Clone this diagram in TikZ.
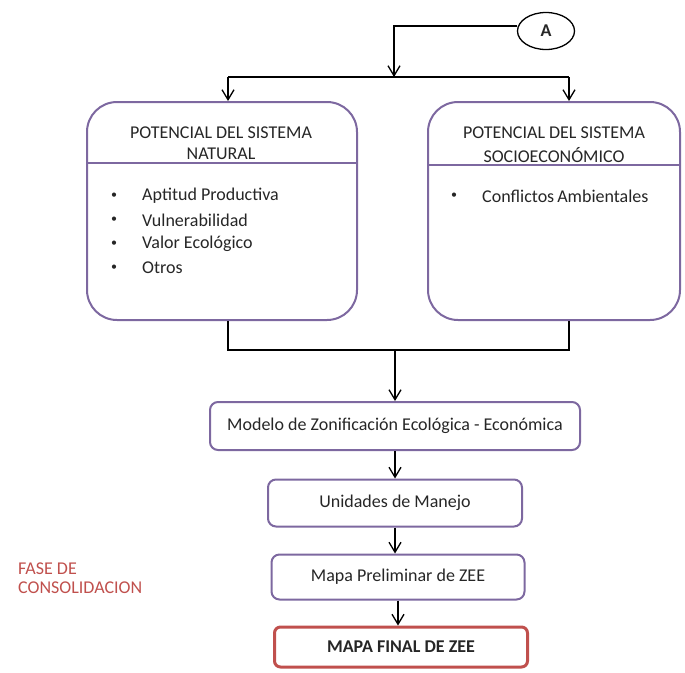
\documentclass[tikz,border=0pt]{standalone}
\usepackage{fontspec}
\setmainfont{Carlito}
\usetikzlibrary{arrows.meta,shapes.geometric}
\definecolor{purp}{HTML}{7D68A0}
\definecolor{redb}{HTML}{C0504D}
\definecolor{txtc}{HTML}{262626}
\begin{document}
\begin{tikzpicture}[x=1pt,y=-1pt,
  font=\fontsize{18}{21}\selectfont,text=txtc,
  conn/.style={draw=black,line width=1.3pt},
  arr/.style={conn,-{Straight Barb[length=10pt,width=12pt,line width=1.3pt]}},
  bigbox/.style={draw=purp,line width=2pt,rounded corners=30pt,inner sep=0pt},
  smallbox/.style={draw=purp,line width=2pt,rounded corners=8pt,inner sep=0pt},
  finalbox/.style={draw=redb,line width=3pt,rounded corners=6pt,inner sep=0pt},
  txt/.style={inner sep=0pt,anchor=base west}]
\useasboundingbox (0,0) rectangle (685,672);
% top ellipse
\node[ellipse,draw=black,line width=1.3pt,minimum width=57pt,minimum height=37pt] (A) at (546,31) {\textbf{A}};
\coordinate (t1) at (394,26);
\coordinate (j1) at (228,77);
\coordinate (j2) at (569,77);
\coordinate (j0) at (394,77);
% big boxes
\node[bigbox,minimum width=270pt,minimum height=218pt] (nat) at (222,211) {};
\node[bigbox,minimum width=252pt,minimum height=218pt] (soc) at (554,211) {};
\draw[purp,line width=2pt] (nat.west |- 0,163) -- (nat.east |- 0,163);
\draw[purp,line width=2pt] (soc.west |- 0,165) -- (soc.east |- 0,165);
% headers
\node (nh1) at (221,133) {POTENCIAL DEL SISTEMA};
\node (nh2) at (221,154) {NATURAL};
\node (sh1) at (554,133) {POTENCIAL DEL SISTEMA};
\node (sh2) at (554,155) {SOCIOECONÓMICO};
% bullets
\foreach \y/\t [count=\i] in {196/Aptitud Productiva,220/Vulnerabilidad,244/Valor Ecológico,268/Otros}{
  \node[font=\fontsize{12}{14}\selectfont] (nb\i) at (114,\y) {\textbullet};
  \node[anchor=west,inner sep=0pt] (ni\i) at (142,\y) {\t};
}
\node[font=\fontsize{12}{14}\selectfont] (sb1) at (454,196) {\textbullet};
\node[anchor=west,inner sep=0pt] (si1) at (482,196) {Conflictos\,Ambientales};
% lower boxes
\node[smallbox,minimum width=370pt,minimum height=48pt] (mod) at (395,426) {Modelo de Zonificación Ecológica - Económica};
\node[smallbox,minimum width=254pt,minimum height=47pt] (uni) at (395,503) {Unidades de Manejo};
\node[smallbox,minimum width=253pt,minimum height=45pt] (pre) at (398,577) {Mapa Preliminar de ZEE};
\node[finalbox,minimum width=253pt,minimum height=40pt] (fin) at (401,647) {\textbf{MAPA FINAL DE ZEE}};
\node[txt,text=redb] (f1) at (18,574) {FASE DE};
\node[txt,text=redb] (f2) at (18,593) {CONSOLIDACION};
% connectors
\draw[conn] (A.west |- t1) -- (t1) -- (j0);
\draw[arr] (t1) -- (j0);
\draw[conn] (j1) -- (j2);
\draw[arr] (j1) -- (j1 |- nat.north);
\draw[arr] (j2) -- (j2 |- soc.north);
\coordinate (b1) at (228,350);
\coordinate (b2) at (569,350);
\coordinate (b0) at (395,350);
\draw[conn] (b1 |- nat.south) -- (b1) -- (b2) -- (b2 |- soc.south);
\draw[arr] (b0) -- (mod.north);
\draw[arr] (mod.south) -- (uni.north);
\draw[arr] (uni.south) -- (uni.south |- pre.north);
\draw[arr] (pre.south) -- (pre.south |- fin.north);
\end{tikzpicture}
\end{document}
